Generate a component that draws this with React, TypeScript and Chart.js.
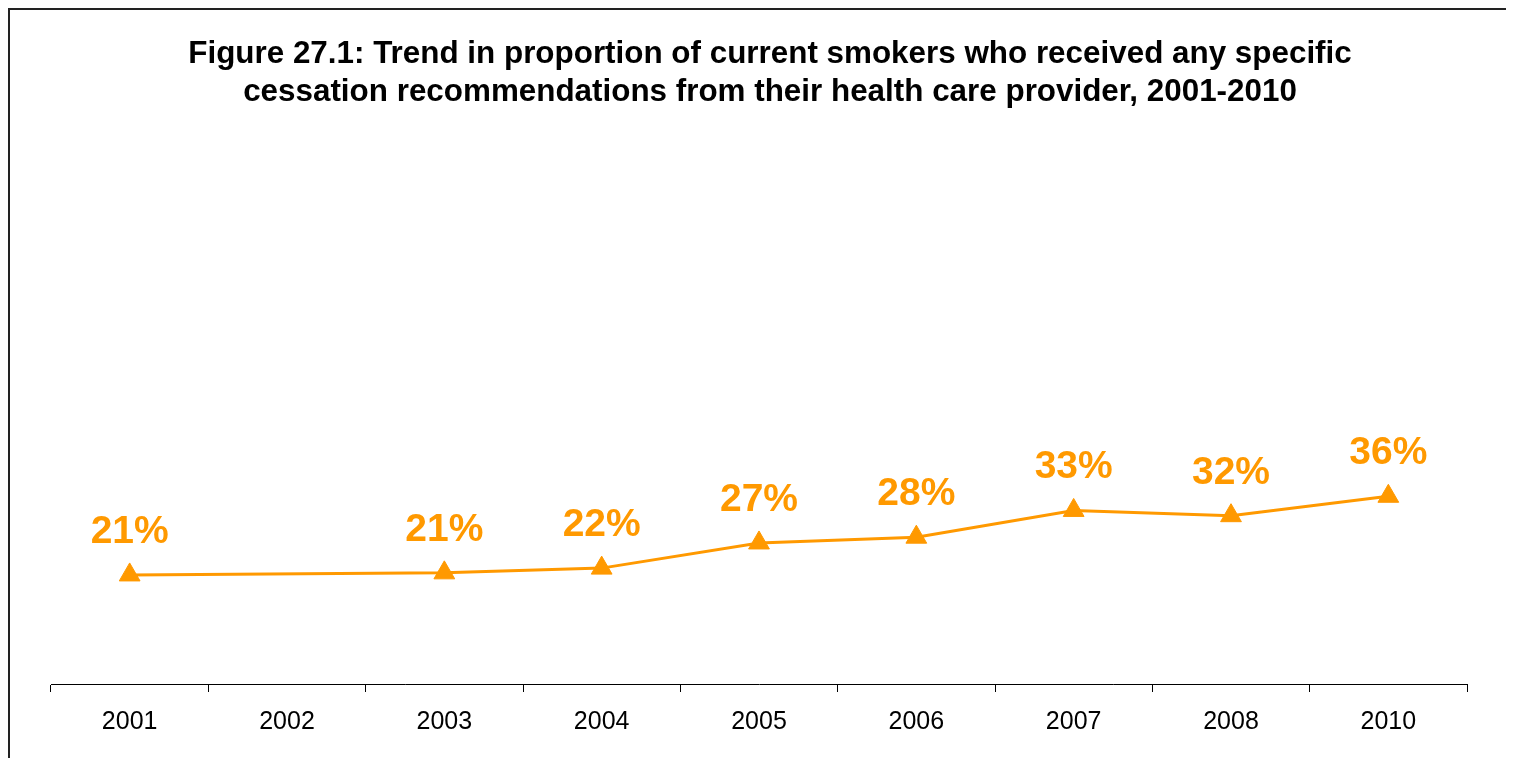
import React, { useEffect, useRef } from "react";
import { Chart, registerables } from "chart.js";

Chart.register(...registerables);

const years = ["2001", "2002", "2003", "2004", "2005", "2006", "2007", "2008", "2010"];
const percentReceived: (number | null)[] = [20.8, null, 21.2, 22.1, 26.9, 28.0, 33.1, 32.1, 35.8];
const titleLines = [
  "Figure 27.1: Trend in proportion of current smokers who received any specific",
  "cessation recommendations from their health care provider, 2001-2010",
];

const ORANGE = "#FF9900";
const FONT = "'Liberation Sans', Arial, Helvetica, sans-serif";

if (typeof document !== "undefined") {
  document.documentElement.style.overflow = "hidden";
  document.body.style.overflow = "hidden";
}

const valueLabels = {
  id: "valueLabels",
  afterDatasetsDraw(chart: any) {
    const ctx = chart.ctx;
    const meta = chart.getDatasetMeta(0);
    const data = chart.data.datasets[0].data;
    ctx.save();
    ctx.font = `bold 39px ${FONT}`;
    ctx.fillStyle = ORANGE;
    ctx.textAlign = "center";
    ctx.textBaseline = "alphabetic";
    meta.data.forEach((pt: any, i: number) => {
      const v = data[i];
      if (v === null || v === undefined) return;
      ctx.fillText(Math.round(v) + "%", pt.x, pt.y - 32);
    });
    ctx.restore();
  },
};

export default function App() {
  const ref = useRef<HTMLCanvasElement>(null);
  useEffect(() => {
    if (!ref.current) return;
    const chart = new Chart(ref.current, {
      type: "line",
      data: {
        labels: years,
        datasets: [
          {
            data: percentReceived,
            borderColor: ORANGE,
            backgroundColor: ORANGE,
            borderWidth: 3,
            pointStyle: "triangle",
            pointRadius: 12,
            pointBorderWidth: 1,
            pointBackgroundColor: ORANGE,
            pointBorderColor: ORANGE,
            spanGaps: true,
            tension: 0,
          },
        ],
      },
      options: {
        responsive: false,
        animation: false,
        devicePixelRatio: 1,
        layout: { padding: { left: 41, right: 25, top: 0, bottom: 6 } },
        plugins: {
          legend: { display: false },
          tooltip: { enabled: false },
          title: {
            display: true,
            text: titleLines,
            color: "#000",
            font: { family: FONT, size: 31.4, weight: "bold", lineHeight: 1.22 },
            padding: { top: 25, bottom: 48 },
          },
        },
        scales: {
          x: {
            offset: true,
            grid: {
              offset: true,
              drawOnChartArea: false,
              drawTicks: true,
              tickLength: 8,
              color: "#000",
              lineWidth: 1,
            },
            border: { display: true, color: "#000", width: 1 },
            ticks: {
              color: "#000",
              font: { family: FONT, size: 25 },
              padding: 15,
              maxRotation: 0,
              autoSkip: false,
            },
          },
          y: {
            position: "right",
            min: 0,
            max: 100,
            display: true,
            grid: { display: false, drawTicks: false },
            border: { display: false },
            ticks: { display: false },
            afterFit: (scale: any) => {
              scale.width = 22;
            },
          },
        },
      },
      plugins: [valueLabels],
    });
    return () => chart.destroy();
  }, []);

  return (
    <div
      style={{
        width: 1504,
        height: 748,
        borderTop: "2px solid #222",
        borderLeft: "2px solid #222",
        background: "#fff",
      }}
    >
      <canvas ref={ref} width={1504} height={748} style={{ display: "block", width: 1504, height: 748 }} />
    </div>
  );
}
